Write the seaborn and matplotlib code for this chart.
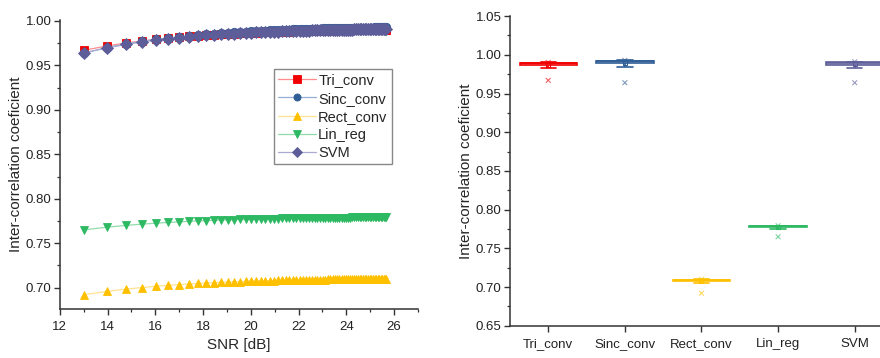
import numpy as np
import pandas as pd
import seaborn as sns
import matplotlib.pyplot as plt
from matplotlib.ticker import MultipleLocator

# SNR values (dB)
snr = [13.01, 13.98, 14.77, 15.44, 16.02, 16.53, 16.99, 17.40, 17.78, 18.13,
       18.45, 18.75, 19.03, 19.29, 19.54, 19.78, 20.00, 20.21, 20.41, 20.61,
       20.79, 20.97, 21.14, 21.30, 21.46, 21.61, 21.76, 21.90, 22.04, 22.17,
       22.30, 22.43, 22.55, 22.67, 22.79, 22.90, 23.01, 23.12, 23.22, 23.32,
       23.42, 23.52, 23.62, 23.71, 23.80, 23.89, 23.98, 24.07, 24.15, 24.23,
       24.31, 24.39, 24.47, 24.55, 24.62, 24.70, 24.77, 24.84, 24.91, 24.98,
       25.05, 25.12, 25.19, 25.25, 25.31, 25.38, 25.44, 25.50, 25.56, 25.62,
       25.68]

tri_conv = [.9670, .9719, .9752, .9775, .9793, .9806, .9817, .9826, .9833, .9840,
            .9845, .9850, .9854, .9857, .9861, .9863, .9866, .9868, .9870, .9872,
            .9874, .9876, .9877, .9879, .9880, .9881, .9882, .9883, .9884, .9885,
            .9886, .9887, .9888, .9889, .9889, .9890, .9891, .9891, .9892, .9892,
            .9893, .9893, .9894, .9894, .9895, .9895, .9895, .9896, .9896, .9897,
            .9897, .9897, .9898, .9898, .9898, .9898, .9899, .9899, .9899, .9899,
            .9900, .9900, .9900, .9900, .9901, .9901, .9901, .9901, .9901, .9902,
            .9902]
sinc_conv = [.9640, .9701, .9742, .9771, .9793, .9809, .9823, .9834, .9843, .9851,
             .9858, .9864, .9869, .9873, .9877, .9881, .9884, .9887, .9890, .9892,
             .9894, .9896, .9898, .9900, .9901, .9903, .9904, .9906, .9907, .9908,
             .9909, .9910, .9911, .9912, .9913, .9914, .9915, .9915, .9916, .9917,
             .9917, .9918, .9918, .9919, .9920, .9920, .9921, .9921, .9922, .9922,
             .9922, .9923, .9923, .9924, .9924, .9924, .9925, .9925, .9925, .9926,
             .9926, .9926, .9927, .9927, .9927, .9927, .9928, .9928, .9928, .9928,
             .9929]
rect_conv = [.6920, .6958, .6983, .7001, .7015, .7026, .7034, .7041, .7047, .7052,
             .7056, .7059, .7063, .7065, .7068, .7070, .7072, .7074, .7075, .7077,
             .7078, .7080, .7081, .7082, .7083, .7084, .7085, .7085, .7086, .7087,
             .7088, .7088, .7089, .7089, .7090, .7090, .7091, .7091, .7092, .7092,
             .7093, .7093, .7093, .7094, .7094, .7094, .7095, .7095, .7095, .7096,
             .7096, .7096, .7096, .7097, .7097, .7097, .7097, .7098, .7098, .7098,
             .7098, .7098, .7099, .7099, .7099, .7099, .7099, .7099, .7099, .7100,
             .7100]
lin_reg = [.7650, .7680, .7700, .7714, .7725, .7733, .7740, .7745, .7750, .7754,
           .7757, .7760, .7763, .7765, .7767, .7768, .7770, .7771, .7773, .7774,
           .7775, .7776, .7777, .7778, .7779, .7779, .7780, .7781, .7781, .7782,
           .7782, .7783, .7783, .7784, .7784, .7785, .7785, .7785, .7786, .7786,
           .7786, .7787, .7787, .7787, .7788, .7788, .7788, .7788, .7788, .7789,
           .7789, .7789, .7789, .7789, .7790, .7790, .7790, .7790, .7790, .7790,
           .7791, .7791, .7791, .7791, .7791, .7791, .7791, .7792, .7792, .7792,
           .7792]
svm = [.9640, .9697, .9735, .9762, .9783, .9798, .9811, .9821, .9830, .9837,
       .9844, .9849, .9854, .9858, .9862, .9865, .9868, .9871, .9873, .9875,
       .9878, .9879, .9881, .9883, .9884, .9886, .9887, .9888, .9889, .9890,
       .9891, .9892, .9893, .9894, .9895, .9896, .9896, .9897, .9898, .9898,
       .9899, .9900, .9900, .9901, .9901, .9902, .9902, .9903, .9903, .9903,
       .9904, .9904, .9905, .9905, .9905, .9906, .9906, .9906, .9907, .9907,
       .9907, .9907, .9908, .9908, .9908, .9908, .9909, .9909, .9909, .9909,
       .9910]

methods = ["Tri_conv", "Sinc_conv", "Rect_conv", "Lin_reg", "SVM"]
series = [tri_conv, sinc_conv, rect_conv, lin_reg, svm]
marker_colors = ["#F00000", "#2F5D95", "#FFC000", "#2DB862", "#5D5D99"]
line_colors = ["#FF8C8C", "#93AED3", "#FFE28F", "#8FDCAA", "#AAAAD2"]
fill_colors = ["#FFD6D6", "#CDDBEE", "#FFF2C8", "#D2F0DC", "#DCDCEE"]
markers = ["s", "o", "^", "v", "D"]

df = pd.concat(
    [pd.DataFrame({"SNR": snr, "value": s, "method": m}) for m, s in zip(methods, series)],
    ignore_index=True,
)

sns.set_style("ticks")
plt.rcParams["font.family"] = ["Liberation Sans", "DejaVu Sans"]
plt.rcParams["axes.edgecolor"] = "#333333"
plt.rcParams["axes.linewidth"] = 1.1
plt.rcParams["xtick.color"] = "#333333"
plt.rcParams["ytick.color"] = "#333333"

fig = plt.figure(figsize=(8.8, 3.58), dpi=100)
ax1 = fig.add_axes([0.068, 0.137, 0.407, 0.807])
ax2 = fig.add_axes([0.5795, 0.090, 0.4353, 0.865])

# left: correlation vs SNR
sns.lineplot(data=df, x="SNR", y="value", hue="method", style="method",
             hue_order=methods, style_order=methods, palette=marker_colors,
             markers=markers, dashes=False, markersize=6, linewidth=0.9,
             markeredgewidth=0.6, legend=False, ax=ax1)
for ln, lc, mc in zip(ax1.lines, line_colors, marker_colors):
    ln.set_color(lc)
    ln.set_markerfacecolor(mc)
    ln.set_markeredgecolor(mc)

leg = ax1.legend(handles=ax1.lines[:5], labels=methods, loc="upper left",
                 bbox_to_anchor=(0.311, 0.807), bbox_transform=fig.transFigure,
                 fontsize=10.5, frameon=True, fancybox=False, edgecolor="#888888",
                 framealpha=1, borderpad=0.3, labelspacing=0.28, handlelength=2.6,
                 handletextpad=0.15, borderaxespad=0, markerscale=0.85)

ax1.set_xlim(12, 27)
ax1.set_ylim(0.676, 1.001)
ax1.xaxis.set_major_locator(MultipleLocator(2))
ax1.xaxis.set_minor_locator(MultipleLocator(1))
ax1.yaxis.set_major_locator(MultipleLocator(0.05))
ax1.yaxis.set_minor_locator(MultipleLocator(0.025))
ax1.yaxis.set_major_formatter(plt.FormatStrFormatter("%.2f"))
ax1.set_xlabel("SNR [dB]", fontsize=11)
ax1.set_ylabel("Inter-correlation coeficient", fontsize=11, labelpad=2)
sns.despine(ax=ax1)

# right: box plots of the same series
for m, c, fc in zip(methods, marker_colors, fill_colors):
    sub = df[df["method"] == m]
    sns.boxplot(data=sub, x="method", y="value", order=methods, color=fc,
                linecolor=c, saturation=1, width=0.75, showfliers=False,
                showmeans=True, linewidth=1.2, capwidths=0.2,
                meanprops=dict(marker="s", markersize=3.5, markerfacecolor="none",
                               markeredgecolor=c, markeredgewidth=0.8),
                ax=ax2)

extremes = df.groupby("method", sort=False)["value"].agg(["min", "max"]).reset_index()
ext_long = extremes.melt(id_vars="method", value_name="value")
sns.scatterplot(data=ext_long, x="method", y="value", hue="method",
                hue_order=methods, palette=marker_colors, marker="x", s=12,
                linewidth=0.8, alpha=0.6, legend=False, ax=ax2)

ax2.set_xlim(-0.5, 4.5)
ax2.set_ylim(0.65, 1.05)
ax2.yaxis.set_major_locator(MultipleLocator(0.05))
ax2.yaxis.set_minor_locator(MultipleLocator(0.025))
ax2.yaxis.set_major_formatter(plt.FormatStrFormatter("%.2f"))
ax2.set_xlabel("")
ax2.set_ylabel("Inter-correlation coeficient", fontsize=11, labelpad=2)
sns.despine(ax=ax2)

for ax in (ax1, ax2):
    ax.tick_params(which="major", length=4, width=1.0, labelsize=9.5, pad=2,
                   labelcolor="#222222", direction="out")
    ax.tick_params(which="minor", length=2.5, width=0.9, direction="out")
    ax.tick_params(axis="x", which="major", pad=4.5)

fig.savefig("out.png", dpi=100)
